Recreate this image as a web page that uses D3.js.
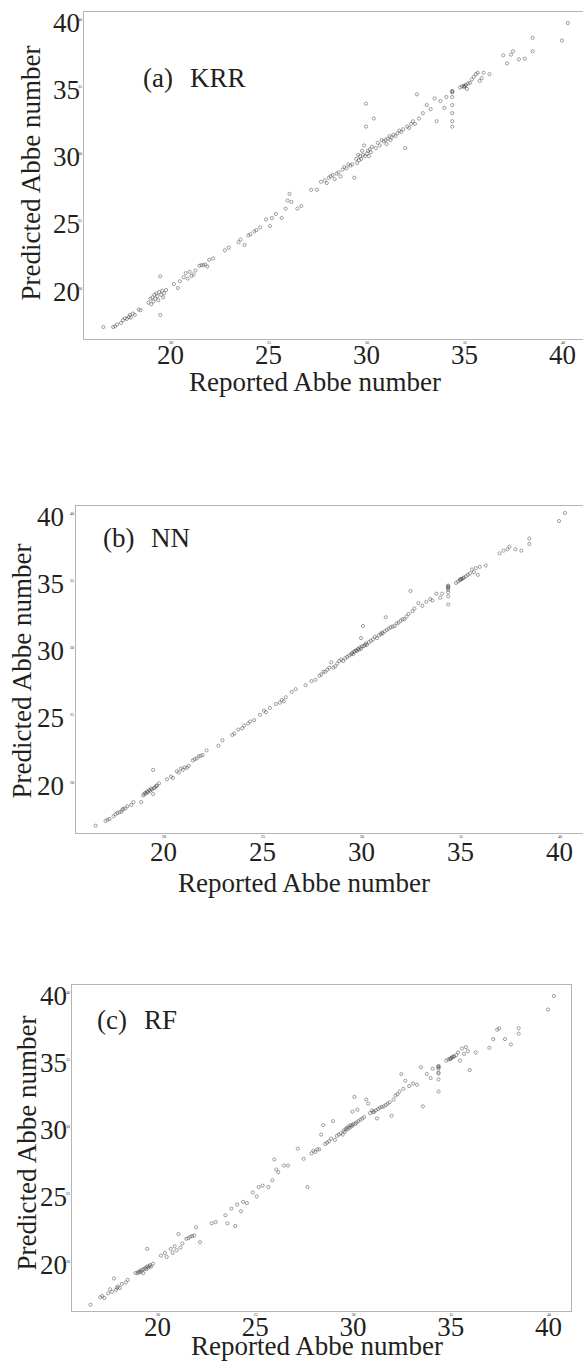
<!DOCTYPE html>
<html><head><meta charset="utf-8">
<script src="https://cdn.jsdelivr.net/npm/d3@7"></script>
<style>
body{margin:0;background:#fff}
svg{display:block}
text{font-family:"Liberation Serif","Times New Roman",serif;fill:#231f20}
</style>
</head><body>
<svg id="chart" width="583" height="1362"></svg>
<script>
// ---- data ----
const reported = [
  16.6,
  17.1,17.2,17.3,17.5,17.6,17.7,17.8,17.9,17.95,18.0,18.1,18.2,18.4,18.5,
  18.9,19.0,19.05,19.1,19.15,19.2,19.25,19.3,19.35,19.4,19.45,19.5,19.5,19.55,19.6,19.65,19.7,19.8,
  20.2,20.4,20.5,20.7,20.8,20.9,21.0,21.1,21.2,21.3,
  21.5,21.6,21.7,21.8,21.9,22.0,22.2,
  22.8,23.0,
  23.5,23.6,23.8,24.0,24.1,24.3,24.4,24.6,
  24.9,25.1,25.2,25.4,25.7,
  25.9,26.0,26.1,26.2,26.5,26.7,
  27.2,27.5,27.7,27.9,28.0,28.1,28.2,28.3,28.4,28.5,28.6,28.7,28.8,28.9,29.0,29.1,29.2,
  29.3,29.4,29.5,29.55,29.6,29.65,29.7,29.75,29.8,29.85,29.9,29.95,30.0,30.0,30.05,30.1,30.15,30.2,30.25,30.3,30.4,30.5,
  30.6,30.7,30.8,30.9,31.0,31.05,31.1,31.2,31.25,31.3,31.4,31.5,31.6,31.7,31.8,31.9,32.0,32.1,32.2,32.3,32.4,32.5,32.6,32.7,
  32.9,33.1,33.3,33.5,33.6,33.8,34.0,34.1,
  34.4,34.4,34.4,34.4,34.4,34.4,34.4,34.4,
  34.8,34.9,35.0,35.0,35.05,35.1,35.15,35.2,35.3,
  35.4,35.5,35.6,35.7,35.8,35.9,36.0,36.3,
  37.0,37.2,37.4,37.5,37.8,38.1,
  38.5,38.5,
  40.0,40.3
];
const krr = [
  17.1,
  17.1,17.15,17.3,17.4,17.6,17.75,17.7,17.85,18.0,17.8,18.1,18.0,18.4,18.35,
  18.9,19.2,18.8,19.3,19.0,19.5,19.2,19.6,19.4,19.1,19.7,20.87,18.0,19.5,19.8,19.3,19.6,19.85,
  20.3,20.0,20.5,20.8,21.1,20.7,21.2,20.9,21.0,21.3,
  21.65,21.7,21.7,21.75,21.6,22.1,22.2,
  22.8,23.0,
  23.4,23.6,23.2,23.9,24.0,24.2,24.3,24.5,
  25.1,24.6,25.2,25.5,25.2,
  25.9,26.5,27.0,26.4,25.9,26.1,
  27.3,27.3,27.9,28.0,27.8,28.2,28.3,28.4,28.1,28.5,28.6,28.3,28.8,29.0,28.9,29.2,29.1,
  29.2,28.2,29.6,29.3,29.9,29.5,29.8,29.6,30.2,29.9,30.6,29.8,33.7,32.0,30.0,30.2,29.8,30.3,30.1,30.5,32.6,30.4,
  30.8,30.6,31.0,30.9,31.0,30.7,31.1,31.3,31.0,31.2,31.4,31.3,31.5,31.7,31.6,31.8,30.4,32.0,31.9,32.2,32.4,32.2,34.4,32.6,
  33.0,33.6,33.3,34.1,32.4,33.9,33.4,34.2,
  32.0,32.4,33.0,33.6,34.2,34.55,34.6,34.65,
  34.9,35.0,34.95,35.05,35.0,35.1,34.8,35.2,35.25,
  35.5,35.7,35.9,36.0,35.4,35.6,36.0,35.9,
  37.3,36.7,37.35,37.6,37.0,37.05,
  38.6,37.6,
  38.4,39.7
];
const nn = [
  16.75,
  17.1,17.2,17.25,17.45,17.6,17.7,17.75,17.8,17.95,18.0,18.05,18.2,18.3,18.5,
  18.5,19.0,19.1,19.2,19.15,19.3,19.25,19.4,19.35,19.5,19.45,19.1,20.9,19.55,19.6,19.7,19.75,19.9,
  20.2,20.4,20.3,20.8,20.7,21.0,20.9,21.1,21.05,21.2,
  21.6,21.7,21.75,21.9,21.95,22.0,22.35,
  22.7,23.1,
  23.5,23.6,23.9,24.0,24.2,24.35,24.5,24.6,
  25.0,25.3,25.2,25.5,25.8,
  25.9,26.1,26.0,26.3,26.7,26.9,
  27.2,27.5,27.6,27.9,28.0,28.2,28.2,28.35,28.5,28.9,28.5,28.6,28.8,29.0,29.1,29.0,29.2,
  29.3,29.4,29.5,29.6,29.5,29.7,29.7,29.8,29.75,29.9,29.85,30.0,30.7,29.9,30.1,31.6,30.1,30.2,30.3,30.2,30.4,30.5,
  30.6,30.8,30.7,30.9,31.0,31.1,31.05,31.2,32.25,31.3,31.4,31.5,31.55,31.6,31.8,31.85,32.0,32.1,32.1,32.3,32.5,34.2,32.7,32.9,
  33.3,33.1,33.4,33.6,33.5,34.0,33.7,34.0,
  33.2,33.8,34.1,34.3,34.4,34.5,34.55,34.6,
  34.8,34.9,35.0,35.05,35.1,35.1,35.15,35.2,35.3,
  35.4,35.5,35.8,35.6,35.9,35.4,36.0,36.1,
  37.0,37.2,37.3,37.5,37.3,37.2,
  38.1,37.7,
  39.4,40.0
];
const rf = [
  16.75,
  17.3,17.4,17.25,17.6,17.9,17.7,18.7,17.85,18.0,18.1,18.0,18.3,18.4,18.6,
  19.1,19.1,19.2,19.15,19.3,19.2,19.35,19.1,19.4,19.5,19.4,20.9,19.6,19.5,19.6,19.7,19.6,19.8,
  20.4,20.6,20.3,20.9,20.6,21.1,20.8,22.0,21.0,21.3,
  21.65,21.7,21.8,21.85,21.9,22.5,21.4,
  22.8,22.9,
  23.4,22.8,23.9,22.6,24.2,23.7,24.4,24.3,
  25.1,24.8,25.5,25.6,25.5,
  26.0,27.55,26.8,26.6,27.1,27.1,
  28.35,27.6,25.5,28.0,28.2,28.1,28.3,28.3,29.4,30.1,28.7,28.8,28.9,29.1,30.4,29.0,29.3,
  29.4,29.5,29.4,29.7,29.6,29.8,29.9,29.8,30.0,29.9,30.1,30.0,31.1,30.1,30.2,32.2,30.2,30.3,31.25,30.4,30.5,30.6,
  30.7,32.0,31.7,31.0,31.2,31.05,31.1,31.2,30.6,31.3,31.4,31.45,31.5,31.6,31.7,31.8,30.8,32.0,32.3,32.4,32.6,33.9,32.8,33.4,
  33.0,33.2,33.1,34.4,31.5,33.9,33.6,34.3,
  32.6,33.5,34.0,34.3,34.4,34.45,34.5,33.95,
  34.9,35.0,35.0,35.05,35.1,35.15,35.2,35.2,35.3,
  35.5,34.9,35.8,35.4,35.9,35.6,34.2,35.5,
  35.85,36.5,37.2,37.3,36.5,36.1,
  37.3,36.9,
  38.7,39.7
];
const xTicks = [20, 25, 30, 35, 40];
const yTicks = [20, 25, 30, 35, 40];
const panelTags = ["(a)", "(b)", "(c)"];
const modelNames = ["KRR", "NN", "RF"];
const predictions = [krr, nn, rf];
const xTitle = "Reported Abbe number";
const yTitle = "Predicted Abbe number";

// ---- layout (pixel geometry of each panel) ----
const layout = [
  {left:83, right:585, top:11,  bottom:339,  x20:170, x40:562, y20:288,  y40:19,  yPad:3,  xPad:6, xt:[315,391],  yt:[31,173],  tag:[143,190,87]},
  {left:75, right:585, top:505, bottom:833,  x20:163, x40:559, y20:782,  y40:513, yPad:11, xPad:9, xt:[304,892],  yt:[22,671],  tag:[103,151,547]},
  {left:71, right:571, top:984, bottom:1311, x20:157, x40:548, y20:1261, y40:992, yPad:4,  xPad:6, xt:[317,1355], yt:[27,1143], tag:[97,144,1029]}
];

const svg = d3.select("#chart");
const FS = 27;
const SERIF = '"Liberation Serif","Times New Roman",serif';

layout.forEach((L, i) => {
  const x = d3.scaleLinear().domain([20, 40]).range([L.x20, L.x40]);
  const y = d3.scaleLinear().domain([20, 40]).range([L.y20, L.y40]);
  const g = svg.append("g");

  // frame
  g.append("rect")
    .attr("x", L.left + 0.5).attr("y", L.top + 0.5)
    .attr("width", L.right - L.left).attr("height", L.bottom - L.top)
    .attr("fill", "none").attr("stroke", "#b4b4b4").attr("stroke-width", 1);

  // y axis
  const ya = g.append("g").attr("transform", `translate(${L.left},0)`)
    .call(d3.axisLeft(y).tickValues(yTicks).tickSize(0).tickPadding(L.yPad).tickFormat(d3.format("d")))
    .attr("font-family", SERIF).attr("font-size", FS);
  ya.select(".domain").remove();
  ya.selectAll("text").attr("dy", "0.45em").attr("fill", "#231f20");

  // x axis
  const xa = g.append("g").attr("transform", `translate(0,${L.bottom})`)
    .call(d3.axisBottom(x).tickValues(xTicks).tickSize(0).tickPadding(L.xPad).tickFormat(d3.format("d")))
    .attr("font-family", SERIF).attr("font-size", FS);
  xa.select(".domain").remove();
  xa.selectAll("text").attr("fill", "#231f20");

  // tiny tick tags next to the axes
  g.selectAll(".ty").data(yTicks).join("text")
    .attr("x", L.left - 1).attr("y", d => y(d) + 1.5)
    .attr("text-anchor", "end").attr("font-size", 4).attr("fill", "#999").text(d => d);
  g.selectAll(".tx").data(xTicks).join("text")
    .attr("x", d => x(d) + 1).attr("y", L.bottom + 5)
    .attr("text-anchor", "middle").attr("font-size", 4).attr("fill", "#999").text(d => d);

  // titles
  g.append("text").attr("x", L.xt[0]).attr("y", L.xt[1])
    .attr("text-anchor", "middle").attr("font-size", FS).text(xTitle);
  g.append("text")
    .attr("transform", `translate(${L.yt[0]},${L.yt[1]}) rotate(-90)`)
    .attr("text-anchor", "middle").attr("dy", "0.35em").attr("font-size", FS).text(yTitle);

  // panel tag
  g.append("text").attr("x", L.tag[0]).attr("y", L.tag[2]).attr("font-size", FS).text(panelTags[i]);
  g.append("text").attr("x", L.tag[1]).attr("y", L.tag[2]).attr("font-size", FS).text(modelNames[i]);

  // points
  const pred = predictions[i];
  g.append("g").selectAll("circle").data(reported).join("circle")
    .attr("cx", d => x(d))
    .attr("cy", (d, k) => y(pred[k]))
    .attr("r", 1.6)
    .attr("fill", "none")
    .attr("stroke", "#4a4a4a")
    .attr("stroke-width", 0.6)
    .attr("opacity", 0.85);
});
</script>
</body></html>
